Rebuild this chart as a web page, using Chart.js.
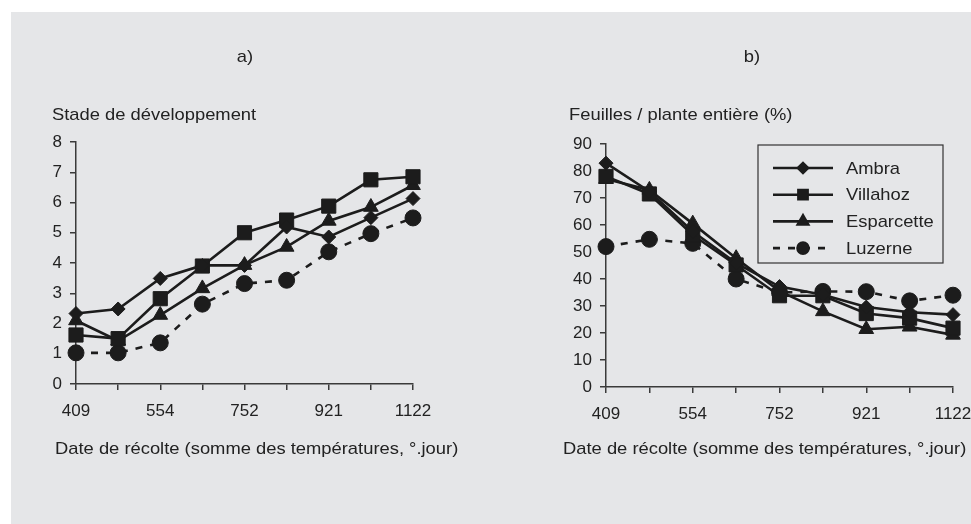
<!DOCTYPE html>
<html>
<head>
<meta charset="utf-8">
<script src="https://cdn.jsdelivr.net/npm/chart.js@4.4.1/dist/chart.umd.min.js"></script>
<style>
  html, body { margin: 0; padding: 0; background: #fff; width: 971px; height: 524px; overflow: hidden; }
  #bg { position: absolute; left: 11px; top: 12px; width: 960px; height: 512px; background: #e5e6e8; }
  .panel { position: absolute; top: 0; height: 524px; }
  #pa { left: 0; width: 485px; }
  #pb { left: 485px; width: 486px; }
</style>
</head>
<body>
<div id="bg"></div>
<div class="panel" id="pa"><canvas id="chartA"></canvas></div>
<div class="panel" id="pb"><canvas id="chartB"></canvas></div>
<script>
// harvest dates (sum of temperatures), only every other one is labelled
const harvestLabels = ['409', '', '554', '', '752', '', '921', '', '1122'];
const seriesNames = ['Ambra', 'Villahoz', 'Esparcette', 'Luzerne'];

// a) development stage
const stageAmbra      = [2.33, 2.48, 3.49, 3.92, 3.92, 5.19, 4.86, 5.50, 6.13];
const stageVillahoz   = [1.62, 1.50, 2.82, 3.90, 5.00, 5.42, 5.88, 6.75, 6.85];
const stageEsparcette = [2.10, 1.43, 2.28, 3.16, 3.93, 4.53, 5.39, 5.85, 6.57];
const stageLuzerne    = [1.03, 1.03, 1.36, 2.64, 3.32, 3.43, 4.37, 4.97, 5.49];

// b) leaves / whole plant (%)
const leafAmbra      = [82.9, 72.4, 57.6, 45.9, 37.2, 34.2, 29.6, 27.7, 26.8];
const leafVillahoz   = [78.0, 71.5, 56.3, 45.2, 33.8, 33.8, 27.2, 25.5, 21.8];
const leafEsparcette = [77.0, 73.0, 60.5, 47.7, 35.5, 28.0, 21.4, 22.3, 19.3];
const leafLuzerne    = [52.0, 54.7, 53.2, 40.0, 35.0, 35.4, 35.3, 31.9, 34.0];

const FONT = "'Liberation Sans', Arial, sans-serif";
const INK = '#1c1c1c';
const AXIS = '#3a3a3a';
const TEXT = '#222';
const STRETCH = 1.08; // reference text is a bit wider than Arial

const markers = [
  { style: 'rectRot',  radius: 7,   legendRadius: 5 },
  { style: 'rect',     radius: 10,  legendRadius: 6.5 },
  { style: 'triangle', radius: 8.5, legendRadius: 6 },
  { style: 'circle',   radius: 8,   legendRadius: 5.5 }
];

function makeDatasets(values) {
  return values.map((v, i) => ({
    label: seriesNames[i],
    data: v,
    borderColor: INK,
    backgroundColor: INK,
    borderWidth: 2.6,
    borderDash: i === 3 ? [7, 8] : [],
    pointStyle: markers[i].style,
    pointRadius: markers[i].radius,
    pointBorderWidth: 1,
    pointBackgroundColor: INK,
    pointBorderColor: INK,
    tension: 0,
    clip: false
  }));
}

function makeScales(yMax, yStep) {
  const grid = { display: true, drawOnChartArea: false, drawTicks: true, tickLength: 6, color: AXIS, lineWidth: 1.5 };
  const border = { display: true, color: AXIS, width: 1.5 };
  const font = { family: FONT, size: 17 };
  return {
    x: {
      type: 'category', offset: false, grid, border,
      ticks: { autoSkip: false, maxRotation: 0, padding: 11, color: TEXT, font },
      afterFit(s) { s.height = 40; s.paddingLeft = 0; s.paddingRight = 0; }
    },
    y: {
      min: 0, max: yMax, grid, border,
      ticks: { stepSize: yStep, padding: 8, color: TEXT, font },
      afterFit(s) { s.width = 50; }
    }
  };
}

function wideText(ctx, str, x, y) {
  ctx.save();
  ctx.translate(x, y);
  ctx.scale(STRETCH, 1);
  ctx.fillText(str, 0, 0);
  ctx.restore();
}

// header, y caption and x caption drawn as plain text
const panelText = {
  id: 'panelText',
  afterDraw(chart, args, o) {
    const ctx = chart.ctx;
    ctx.save();
    ctx.fillStyle = TEXT;
    ctx.font = '17px ' + FONT;
    ctx.textBaseline = 'alphabetic';
    ctx.textAlign = 'center';
    wideText(ctx, o.header, o.headerX, 62);
    ctx.textAlign = 'left';
    wideText(ctx, o.yCaption, o.yCaptionX, 120);
    wideText(ctx, o.xCaption, o.xCaptionX, 454);
    ctx.restore();
  }
};

// boxed legend with line + marker samples, only used in panel b
const boxLegend = {
  id: 'boxLegend',
  afterDraw(chart, args, o) {
    if (!o.show) return;
    const ctx = chart.ctx;
    const a = chart.chartArea;
    const left = a.right - 195, top = a.top + 1, w = 185, h = 118;
    ctx.save();
    ctx.fillStyle = '#e5e6e8';
    ctx.fillRect(left, top, w, h);
    ctx.strokeStyle = '#333';
    ctx.lineWidth = 1.2;
    ctx.strokeRect(left, top, w, h);
    chart.data.datasets.forEach((ds, i) => {
      const y = top + 23 + i * 26.7;
      ctx.strokeStyle = INK;
      ctx.lineWidth = 2.6;
      ctx.setLineDash(ds.borderDash || []);
      ctx.beginPath();
      ctx.moveTo(left + 15, y);
      ctx.lineTo(left + 75, y);
      ctx.stroke();
      ctx.setLineDash([]);
      ctx.fillStyle = INK;
      Chart.helpers.drawPoint(ctx, { pointStyle: markers[i].style, radius: markers[i].legendRadius, rotation: 0, borderWidth: 1 }, left + 45, y);
      ctx.fill();
      ctx.fillStyle = TEXT;
      ctx.font = '17px ' + FONT;
      ctx.textAlign = 'left';
      ctx.textBaseline = 'middle';
      wideText(ctx, ds.label, left + 88, y + 1);
    });
    ctx.restore();
  }
};

function makeChart(id, values, yMax, yStep, padding, text, legend) {
  return new Chart(document.getElementById(id), {
    type: 'line',
    data: { labels: harvestLabels, datasets: makeDatasets(values) },
    options: {
      responsive: true,
      maintainAspectRatio: false,
      animation: false,
      layout: { padding },
      scales: makeScales(yMax, yStep),
      plugins: {
        legend: { display: false },
        tooltip: { enabled: false },
        panelText: text,
        boxLegend: { show: legend }
      }
    },
    plugins: [panelText, boxLegend]
  });
}

makeChart('chartA', [stageAmbra, stageVillahoz, stageEsparcette, stageLuzerne], 8, 1,
  { left: 26, top: 142, right: 72, bottom: 100 },
  { header: 'a)', headerX: 245, yCaption: 'Stade de développement', yCaptionX: 52,
    xCaption: 'Date de récolte (somme des températures, °.jour)', xCaptionX: 55 },
  false);

makeChart('chartB', [leafAmbra, leafVillahoz, leafEsparcette, leafLuzerne], 90, 10,
  { left: 71, top: 144, right: 18, bottom: 97 },
  { header: 'b)', headerX: 267, yCaption: 'Feuilles / plante entière (%)', yCaptionX: 84,
    xCaption: 'Date de récolte (somme des températures, °.jour)', xCaptionX: 78 },
  true);
</script>
</body>
</html>
